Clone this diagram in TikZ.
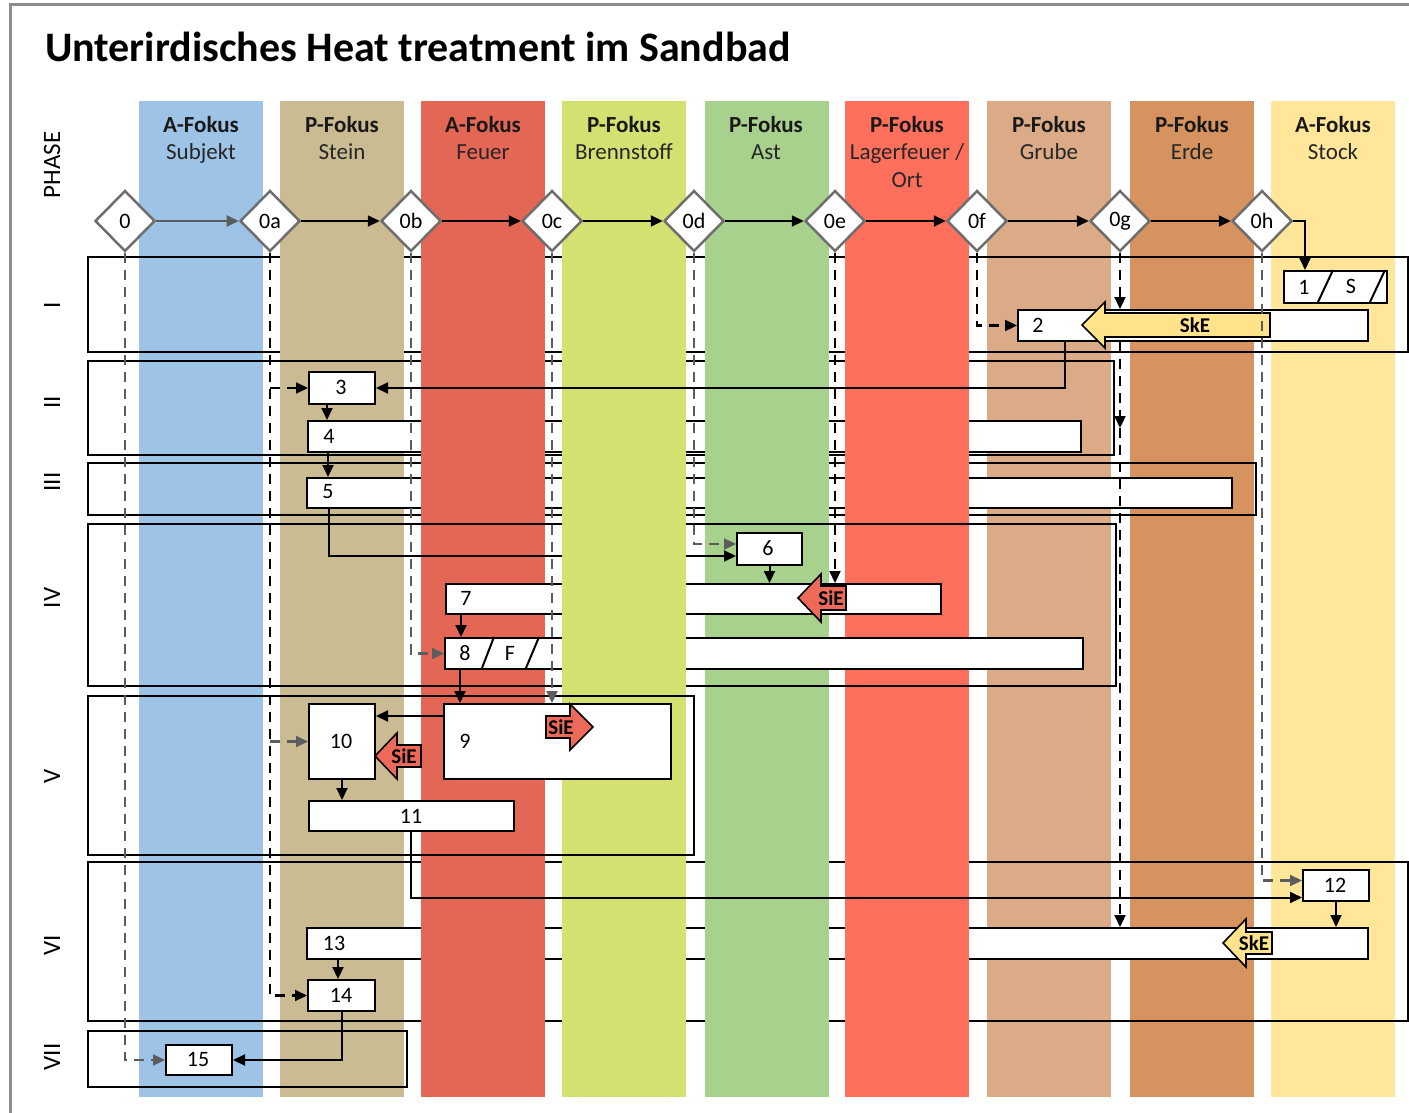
\documentclass[tikz,border=0pt]{standalone}
\usepackage{fontspec}
\setmainfont{Carlito}
\usetikzlibrary{arrows.meta,shapes.geometric}

\definecolor{cSubjekt}{HTML}{9DC3E6}
\definecolor{cStein}{HTML}{CBBB93}
\definecolor{cFeuer}{HTML}{E46655}
\definecolor{cBrenn}{HTML}{D4E06F}
\definecolor{cAst}{HTML}{A9D18E}
\definecolor{cLager}{HTML}{FF705C}
\definecolor{cGrube}{HTML}{DAAB86}
\definecolor{cErde}{HTML}{D6925F}
\definecolor{cStock}{HTML}{FFE699}
\definecolor{cSiE}{HTML}{EE6A58}
\definecolor{cSkE}{HTML}{FFE38A}
\definecolor{cLine}{HTML}{5C5C5C}
\definecolor{cDia}{HTML}{6E6E6E}
\definecolor{cOuter}{HTML}{8C8C8C}

% block arrow: style, tip x, y, head base x, head half height, body half height, tail x
\newcommand{\blockarrow}[7]{%
  \filldraw[#1] (#2,#3) -- (#4,{#3-#5}) -- (#4,{#3-#6}) -- (#7,{#3-#6})
    -- (#7,{#3+#6}) -- (#4,{#3+#6}) -- (#4,{#3+#5}) -- cycle;}

\begin{document}
\begin{tikzpicture}[x=1pt,y=-1pt,
  hdrb/.style={font=\fontsize{23}{27}\selectfont\bfseries, text=black!90, anchor=base, inner sep=0pt},
  hdr/.style={font=\fontsize{23}{27}\selectfont, text=black!85, anchor=base, inner sep=0pt},
  dia/.style={diamond, draw=cDia, fill=white, line width=2.5pt, minimum width=60pt,
    minimum height=61pt, inner sep=0pt, font=\fontsize{22}{25}\selectfont},
  frm/.style={draw=black, line width=2pt},
  box/.style={draw=black, fill=white, line width=2pt, inner sep=0pt, anchor=north west},
  num/.style={font=\fontsize{22}{25}\selectfont, inner sep=0pt},
  phs/.style={font=\fontsize{25}{28}\selectfont, rotate=90, inner sep=0pt},
  tip/.style={-{Triangle[length=12pt,width=11pt]}},
  conn/.style={line width=2pt, tip},
  life/.style={line width=2.2pt, dash pattern=on 10pt off 7pt, tip},
  lifeg/.style={life, draw=cLine},
  blk/.style={draw=black, line width=1.6pt, line join=miter},
  tag/.style={font=\fontsize{21}{24}\selectfont\bfseries, inner sep=0pt},
]
\useasboundingbox (0,0) rectangle (1409,1113);
\fill[white] (0,0) rectangle (1409,1113);
\draw[cOuter, line width=3pt] (10,1113) -- (10,5) -- (1409,5);

% title
\node[anchor=base west, font=\fontsize{42}{48}\selectfont\bfseries, inner sep=0pt]
  (title) at (45,62) {Unterirdisches Heat treatment im Sandbad};

% swimlane columns
\foreach \cx/\cc in {139/cSubjekt,280/cStein,421/cFeuer,562/cBrenn,705/cAst,
                     845/cLager,987/cGrube,1130/cErde,1271/cStock}
  \fill[\cc] (\cx,101) rectangle ++(124,996);

% column headers
\node[hdrb] (hA1) at (201,133) {A-Fokus};  \node[hdr] (hB1) at (201,160) {Subjekt};
\node[hdrb] (hA2) at (342,133) {P-Fokus};  \node[hdr] (hB2) at (342,160) {Stein};
\node[hdrb] (hA3) at (483,133) {A-Fokus};  \node[hdr] (hB3) at (483,160) {Feuer};
\node[hdrb] (hA4) at (624,133) {P-Fokus};  \node[hdr] (hB4) at (624,160) {Brennstoff};
\node[hdrb] (hA5) at (766,133) {P-Fokus};  \node[hdr] (hB5) at (766,160) {Ast};
\node[hdrb] (hA6) at (907,133) {P-Fokus};  \node[hdr] (hB6) at (907,160) {Lagerfeuer /};
\node[hdr] (hC6) at (907,187) {Ort};
\node[hdrb] (hA7) at (1049,133) {P-Fokus}; \node[hdr] (hB7) at (1049,160) {Grube};
\node[hdrb] (hA8) at (1192,133) {P-Fokus}; \node[hdr] (hB8) at (1192,160) {Erde};
\node[hdrb] (hA9) at (1333,133) {A-Fokus}; \node[hdr] (hB9) at (1333,160) {Stock};

% phase labels
\node[phs] (pPh) at (52,165) {PHASE};
\node[phs] (p1) at (52,305) {I};
\node[phs] (p2) at (52,402) {II};
\node[phs] (p3) at (52,482) {III};
\node[phs] (p4) at (52,598) {IV};
\node[phs] (p5) at (52,776) {V};
\node[phs] (p6) at (52,945) {VI};
\node[phs] (p7) at (52,1057) {VII};

% start diamonds
\node[dia] (d0)  at (125,221)  {0};
\node[dia] (d0a) at (270,221)  {0a};
\node[dia] (d0b) at (411,221)  {0b};
\node[dia] (d0c) at (552,221)  {0c};
\node[dia] (d0d) at (694,221)  {0d};
\node[dia] (d0e) at (835,221)  {0e};
\node[dia] (d0f) at (977,221)  {0f};
\node[dia] (d0g) at (1120,221) {0g};
\node[dia] (d0h) at (1262,221) {0h};
\draw[conn, draw=cLine] (d0) -- (d0a);
\draw[conn] (d0a) -- (d0b);
\draw[conn] (d0b) -- (d0c);
\draw[conn] (d0c) -- (d0d);
\draw[conn] (d0d) -- (d0e);
\draw[conn] (d0e) -- (d0f);
\draw[conn] (d0f) -- (d0g);
\draw[conn] (d0g) -- (d0h);

% phase frames
\draw[frm] (88,257) rectangle (1408,352);
\draw[frm] (88,361) rectangle (1114,455);
\draw[frm] (88,463) rectangle (1256,515);
\draw[frm] (88,524) rectangle (1116,686);
\draw[frm] (88,696) rectangle (694,855);
\draw[frm] (88,862) rectangle (1408,1021);
\draw[frm] (88,1031) rectangle (407,1087);

% process steps
\node[box, minimum width=103pt, minimum height=32pt] (b1)  at (1283,270) {};
\node[box, minimum width=350pt, minimum height=31pt] (b2)  at (1017,309) {};
\node[box, minimum width=66pt,  minimum height=32pt] (b3)  at (308,371)  {};
\node[box, minimum width=773pt, minimum height=31pt] (b4)  at (307,420)  {};
\node[box, minimum width=925pt, minimum height=30pt] (b5)  at (306,477)  {};
\node[box, minimum width=65pt,  minimum height=32pt] (b6)  at (736,532)  {};
\node[box, minimum width=495pt, minimum height=30pt] (b7)  at (445,583)  {};
\node[box, minimum width=638pt, minimum height=31pt] (b8)  at (444,637)  {};
\node[box, minimum width=227pt, minimum height=75pt] (b9)  at (443,703)  {};
\node[box, minimum width=66pt,  minimum height=75pt] (b10) at (308,703)  {};
\node[box, minimum width=205pt, minimum height=30pt] (b11) at (308,800)  {};
\node[box, minimum width=66pt,  minimum height=31pt] (b12) at (1302,869) {};
\node[box, minimum width=1061pt,minimum height=31pt] (b13) at (306,927)  {};
\node[box, minimum width=67pt,  minimum height=31pt] (b14) at (307,979)  {};
\node[box, minimum width=66pt,  minimum height=30pt] (b15) at (165,1044) {};

% split cells
\draw[line width=2pt] (1318,302) -- (1333,270) (1370,302) -- (1385,270);
\draw[line width=2pt] (482,668) -- (494,637) (526,668) -- (539,637);

% step labels
\node[num] (t1)  at (1304,287) {1};
\node[num] (tS)  at (1351,286) {S};
\node[num] (t2)  at (1038,325) {2};
\node[num] (t3)  at (341,387)  {3};
\node[num] (t4)  at (329,436)  {4};
\node[num] (t5)  at (328,492)  {5};
\node[num] (t6)  at (768,548)  {6};
\node[num] (t7)  at (466,598)  {7};
\node[num] (t8)  at (465,653)  {8};
\node[num] (tF)  at (510,653)  {F};
\node[num] (t9)  at (465,741)  {9};
\node[num] (t10) at (341,741)  {10};
\node[num] (t11) at (411,816)  {11};
\node[num] (t12) at (1335,885) {12};
\node[num] (t13) at (334,943)  {13};
\node[num] (t14) at (341,995)  {14};
\node[num] (t15) at (198,1059) {15};

% SkE / SiE markers
\blockarrow{blk, fill=cSkE}{1082}{325}{1105}{23}{12}{1270}
\node[tag] (skeA) at (1195,325) {SkE};
\blockarrow{blk, fill=cSiE}{798}{598}{821}{24}{12}{846}
\node[tag] (sieA) at (831,598) {SiE};
\blockarrow{blk, fill=cSiE}{593}{727}{570}{23}{11}{546}
\node[tag] (sieB) at (561,727) {SiE};
\blockarrow{blk, fill=cSiE}{375}{756}{397}{23}{11}{421}
\node[tag] (sieC) at (404,756) {SiE};
\blockarrow{blk, fill=cSkE}{1223}{943}{1246}{24}{11}{1272}
\node[tag] (skeB) at (1254,943) {SkE};

% step flow
\draw[conn] ([xshift=23pt]b5.south west) |- ([yshift=-7pt]b6.west);
\draw[conn] ([xshift=19pt]b3.south west) -- ([xshift=19pt]b3.south west |- b4.north);
\draw[conn] ([xshift=21pt]b4.south west) -- ([xshift=21pt]b4.south west |- b5.north);
\draw[conn] (b6.south) -- (b6.south |- b7.north);
\draw[conn] ([xshift=16pt]b7.south west) -- ([xshift=16pt]b7.south west |- b8.north);
\draw[conn] ([xshift=16pt]b8.south west) -- ([xshift=16pt]b8.south west |- b9.north);
\coordinate (c910) at ([yshift=-13pt]b9.north west);
\draw[conn] (c910) -- (c910 -| b10.east);
\draw[conn] (b10.south) -- (b10.south |- b11.north);
\draw[conn] (b12.south) -- (b12.south |- b13.north);
\draw[conn] ([xshift=32pt]b13.south west) -- ([xshift=32pt]b13.south west |- b14.north);
\draw[conn] (b14.south) |- (b15.east);
\draw[conn] (d0h.east) -| ([xshift=22pt]b1.north west);

% lanes lying over the frames
\fill[cStein] (280,253) rectangle (404,356);
\foreach \cx/\cc in {421/cFeuer,562/cBrenn,705/cAst,845/cLager}{
  \fill[\cc] (\cx,253) rectangle ++(124,267);
  \fill[\cc] (\cx,857) rectangle ++(124,169);}
\fill[cBrenn] (562,520) rectangle (686,691);

% long links
\draw[conn] ([xshift=48pt]b2.south west) |- (b3.east);
\draw[conn] ([xshift=103pt]b11.south west) |- ([yshift=-12pt]b12.west);

% lifelines of the start points
\draw[lifeg] (d0.south) |- (b15.west);
\draw[life]  (d0a.south) |- (b14.west);
\draw[life]  (d0a.south |- b3.west) -- (b3.west);
\draw[lifeg] (d0a.south |- b10.west) -- (b10.west);
\draw[lifeg] (d0b.south) |- (b8.west);
\draw[lifeg] (d0c.south) -- (d0c.south |- b9.north);
\draw[lifeg] (d0d.south) |- ([yshift=5pt]b6.west);
\draw[life]  (d0e.south) -- (d0e.south |- b7.north);
\draw[life]  (d0f.south) |- (b2.west);
\draw[life]  (d0g.south) -- (d0g.south |- b2.north);
\coordinate (c0g) at (1120,428);
\draw[life]  (d0g.south |- b2.south) -- (c0g);
\draw[life]  (c0g) -- (d0g.south |- b13.north);
\draw[lifeg] (d0h.south) |- ([yshift=5pt]b12.west);
\end{tikzpicture}
\end{document}
